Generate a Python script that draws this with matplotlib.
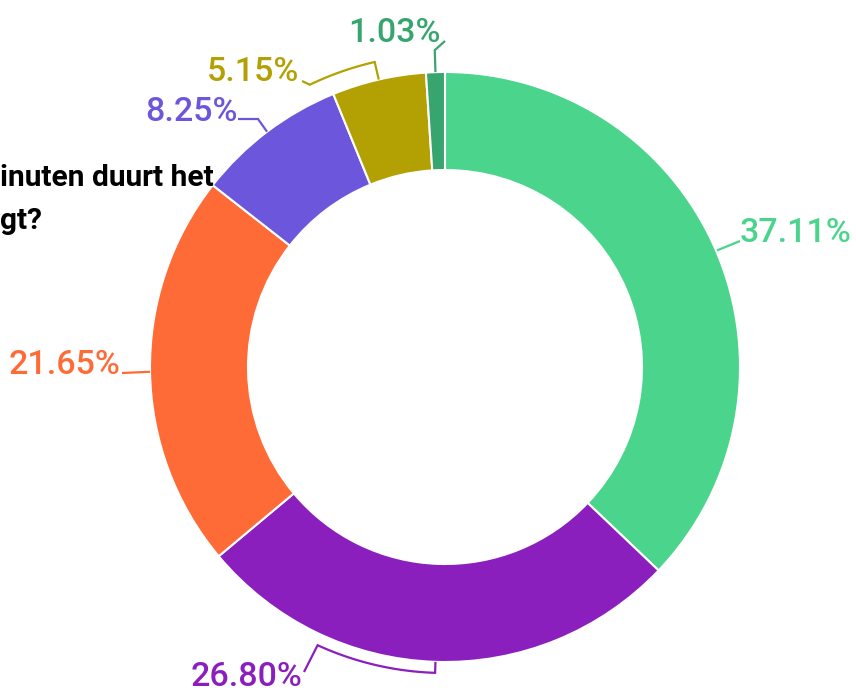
import numpy as np
import matplotlib.pyplot as plt

# data
labels = ['37.11%', '26.80%', '21.65%', '8.25%', '5.15%', '1.03%']
values = [37.11, 26.80, 21.65, 8.25, 5.15, 1.03]
colors = ['#4ad48c', '#8a1fbd', '#ff6b37', '#6c56dc', '#b3a104', '#38a56e']
title_lines = ['inuten duurt het', 'gt?']

W, H = 856, 692
CX, CY = 445, 367  # pixel centre
R_OUT, R_IN = 295, 197

plt.rcParams['font.family'] = ['Roboto', 'DejaVu Sans']

fig = plt.figure(figsize=(W / 100, H / 100), dpi=100)
ax = fig.add_axes([0, 0, 1, 1])

ax.pie(values, colors=colors, center=(CX, H - CY), radius=R_OUT,
       startangle=90, counterclock=False,
       wedgeprops=dict(width=R_OUT - R_IN, edgecolor='white', linewidth=1.5))
ax.set_xlim(0, W)
ax.set_ylim(0, H)
ax.set_aspect('equal')
ax.axis('off')

# slice mid angles (degrees, counterclockwise from +x), kept in (-180, 180]
cum = np.cumsum([0] + values)
total = cum[-1]
starts = 90 - cum[:-1] / total * 360
ends = 90 - cum[1:] / total * 360
mids = (starts + ends) / 2
mids = (mids + 180) % 360 - 180


def pt(ang, r):
    a = np.radians(ang)
    return CX + r * np.cos(a), H - CY + r * np.sin(a)


def px(x, y):
    return x, H - y


def arc(a0, a1, r, n=30):
    angs = np.linspace(a0, a1, n)
    return [pt(a, r) for a in angs]


# leader lines (screen-space anchors near the labels)
leaders = [
    [pt(mids[0], 296), px(740, 241)],
    [pt(mids[1], 295)] + arc(mids[1], -114.6, 306) + [px(304, 672)],
    [pt(mids[2], 295), px(122, 373)],
    [pt(mids[3], 295), px(258, 119), px(238, 119)],
    [pt(mids[4], 295)] + arc(mids[4], 115.6, 313) + [px(302, 81)],
    [pt(mids[5], 295), pt(mids[5], 317), px(445, 41)],
]
for pts, c in zip(leaders, colors):
    xs, ys = zip(*pts)
    ax.plot(xs, ys, color=c, lw=1.6, solid_capstyle='butt', solid_joinstyle='miter')

# label positions: x, baseline y (pixels), alignment
label_pos = [(740, 242, 'left'), (303, 686, 'right'), (121, 374, 'right'),
             (238, 121, 'right'), (299, 81, 'right'), (441, 42, 'right')]
for lab, (x, y, ha), c in zip(labels, label_pos, colors):
    ax.text(x, H - y, lab, color=c, fontsize=24.5, fontweight='medium',
            ha=ha, va='baseline')

# cropped title on the left
ax.text(0, H - 186, title_lines[0], fontsize=21.5, fontweight='bold',
        ha='left', va='baseline', color='black')
ax.text(0, H - 229, title_lines[1], fontsize=21.5, fontweight='bold',
        ha='left', va='baseline', color='black')

fig.savefig('out.png', dpi=100)
